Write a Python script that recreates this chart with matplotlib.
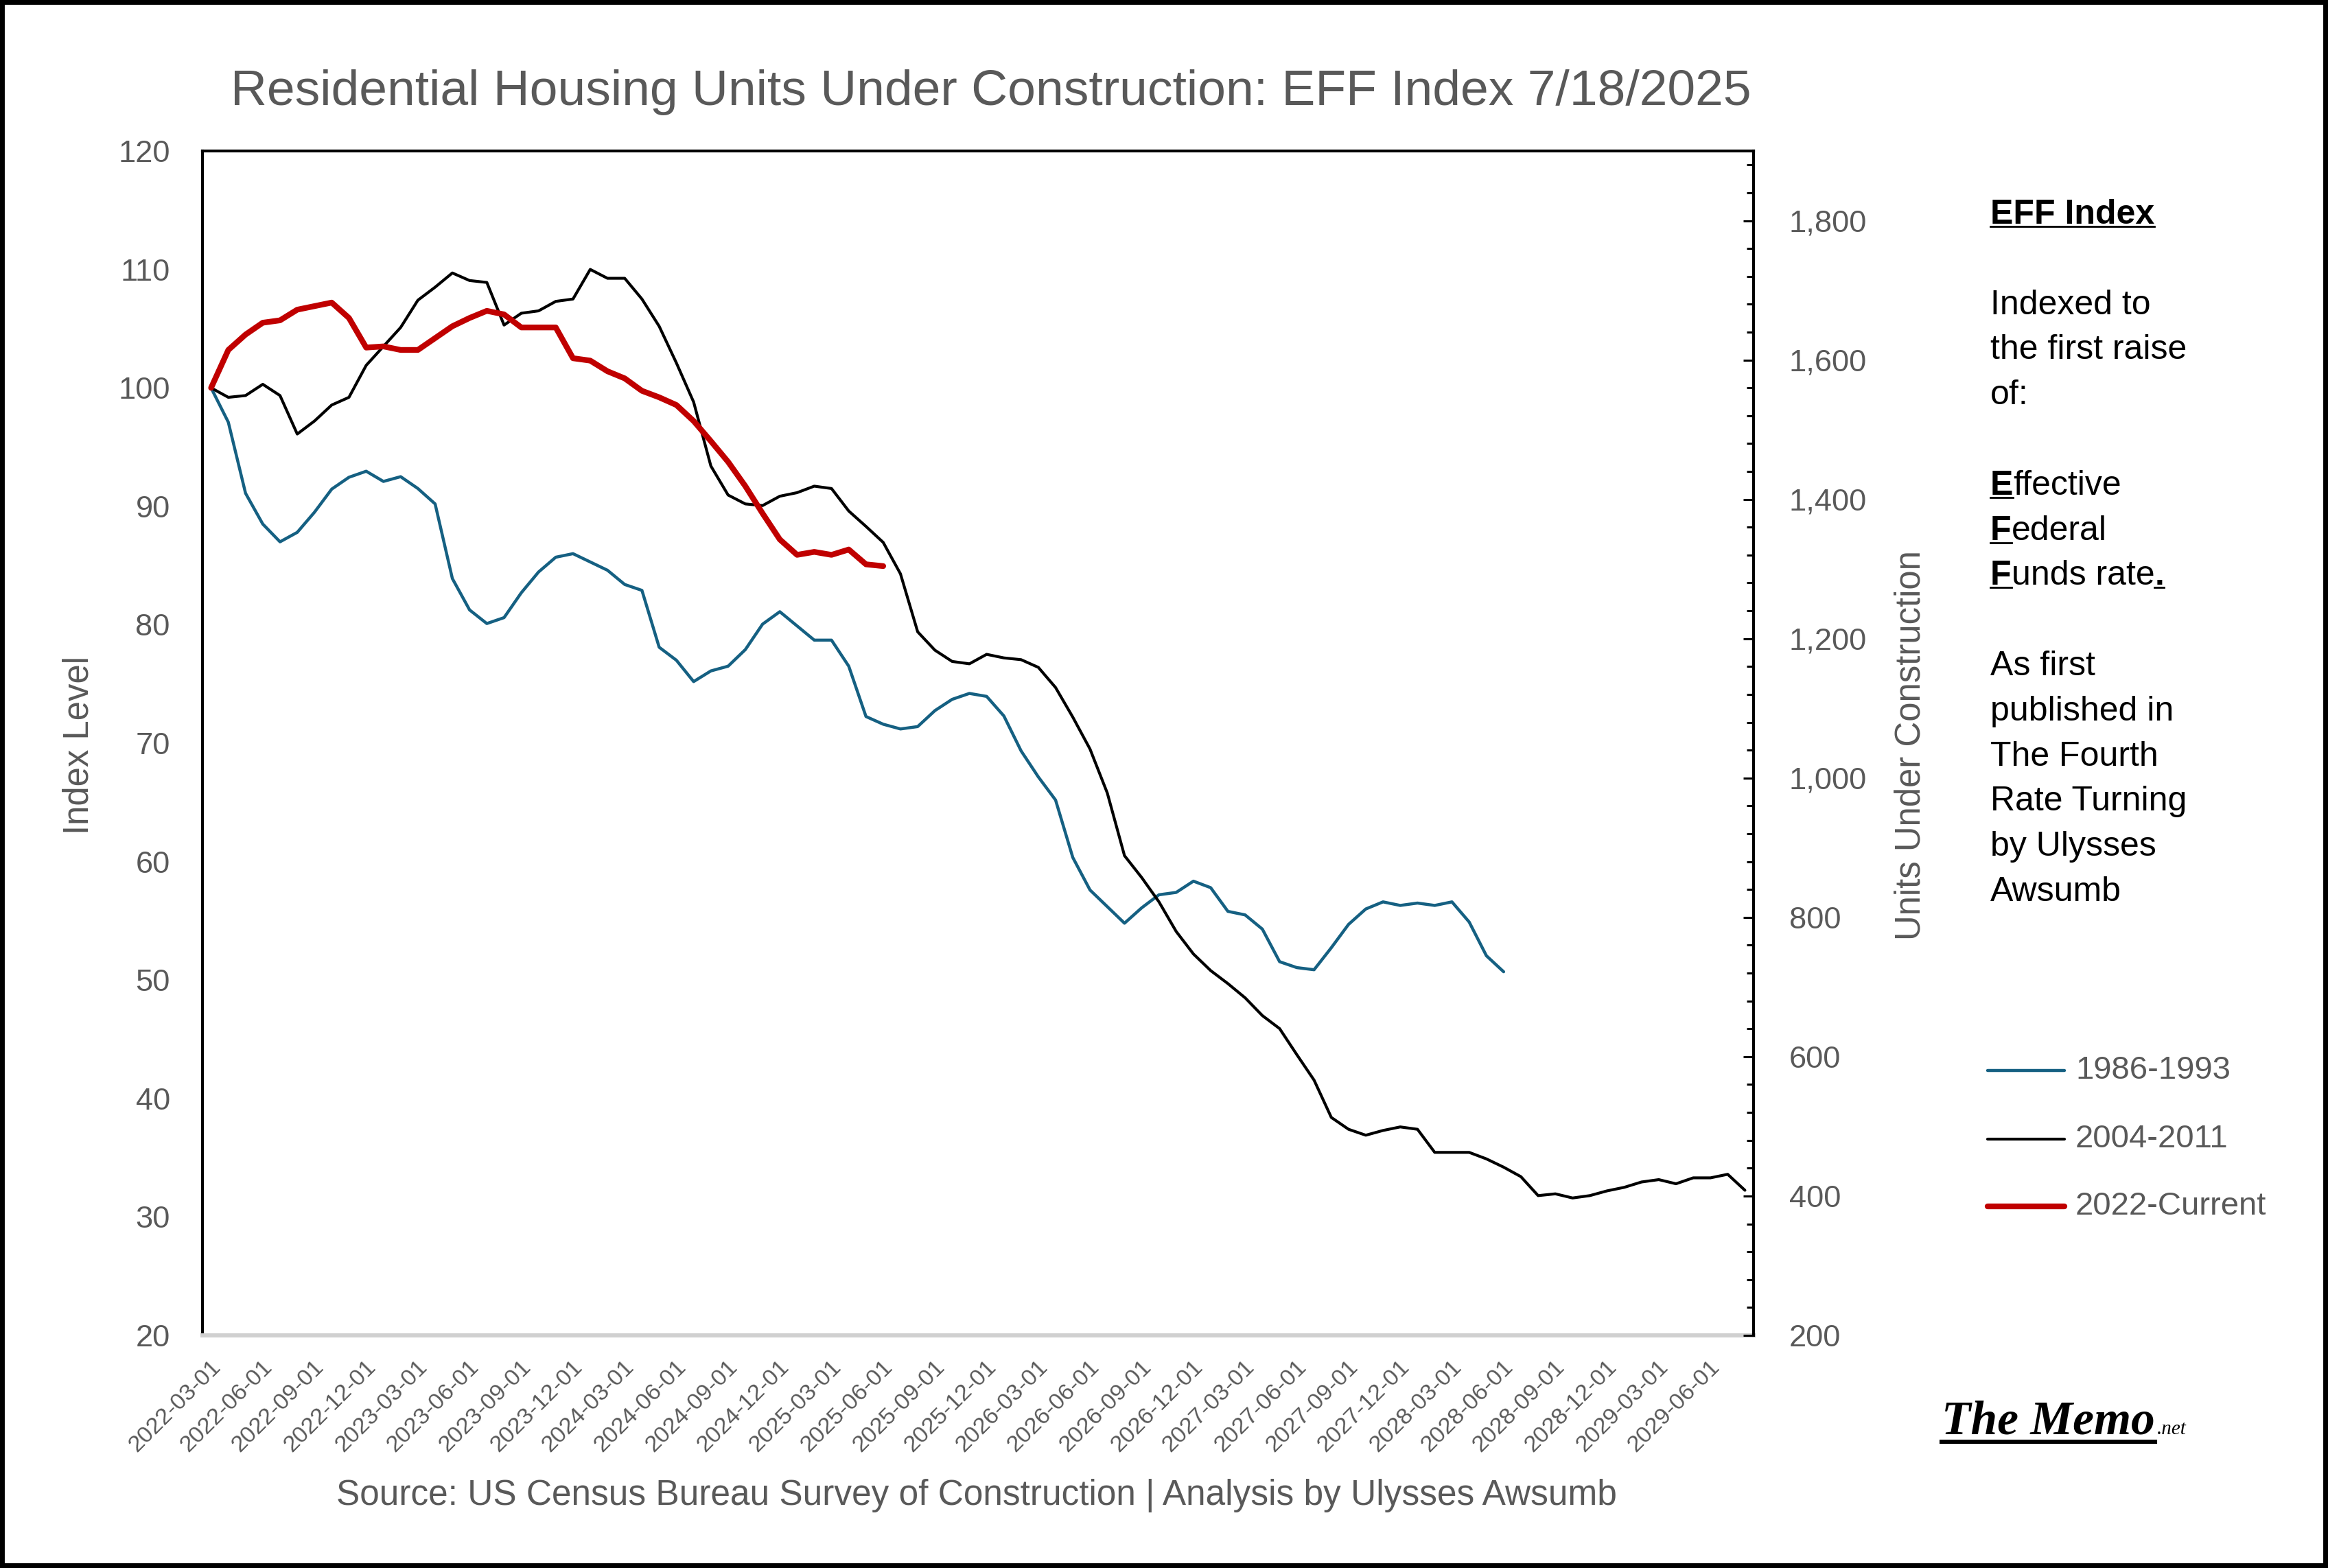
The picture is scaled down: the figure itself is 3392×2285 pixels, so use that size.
import matplotlib
matplotlib.use("Agg")
import matplotlib.pyplot as plt
import numpy as np
import pandas as pd
from matplotlib.lines import Line2D
from matplotlib.patches import Rectangle
from matplotlib.ticker import MultipleLocator, FuncFormatter

plt.rcParams['font.family'] = ['Liberation Sans', 'DejaVu Sans']

# monthly categories on the x axis (90 months from the first raise)
months = pd.date_range("2022-03-01", periods=90, freq="MS").strftime("%Y-%m-%d").tolist()

series_names = ["1986-1993", "2004-2011", "2022-Current"]
series_colors = ["#156082", "#000000", "#C00000"]
series_widths = [1.6, 1.5, 3.0]

idx_1986 = [100, 97.1, 91.1, 88.5, 87.0, 87.8, 89.5, 91.45, 92.45, 92.96,
            92.1, 92.5, 91.5, 90.2, 83.9, 81.25, 80.1, 80.6, 82.7, 84.45,
            85.7, 86.0, 85.3, 84.6, 83.4, 82.9, 78.1, 77.0, 75.2, 76.1,
            76.5, 77.9, 80.05, 81.1, 79.9, 78.7, 78.7, 76.5, 72.25, 71.6,
            71.2, 71.4, 72.75, 73.7, 74.2, 73.95, 72.3, 69.35, 67.15, 65.2,
            60.35, 57.6, 56.2, 54.8, 56.1, 57.2, 57.4, 58.35, 57.8, 55.8,
            55.5, 54.3, 51.55, 51.05, 50.87, 52.73, 54.7, 56.0, 56.6, 56.3,
            56.5, 56.3, 56.6, 54.9, 52.05, 50.7]

idx_2004 = [100, 99.2, 99.35, 100.3, 99.35, 96.1, 97.2, 98.55, 99.2, 101.9,
            103.5, 105.1, 107.4, 108.5, 109.7, 109.06, 108.9, 105.3, 106.3, 106.5,
            107.3, 107.5, 110.0, 109.25, 109.25, 107.5, 105.2, 102.1, 98.8, 93.4,
            90.95, 90.2, 90.06, 90.85, 91.15, 91.7, 91.5, 89.6, 88.3, 86.95,
            84.3, 79.4, 77.85, 76.9, 76.7, 77.5, 77.2, 77.05, 76.4, 74.7,
            72.2, 69.5, 65.8, 60.5, 58.65, 56.6, 54.1, 52.2, 50.8, 49.7,
            48.5, 47.0, 45.9, 43.7, 41.55, 38.4, 37.4, 36.9, 37.3, 37.6,
            37.4, 35.45, 35.45, 35.45, 34.9, 34.2, 33.4, 31.8, 31.95, 31.6,
            31.8, 32.2, 32.5, 32.95, 33.15, 32.8, 33.3, 33.3, 33.6, 32.25]

idx_2022 = [100, 103.2, 104.5, 105.5, 105.7, 106.6, 106.9, 107.2, 105.9, 103.4,
            103.5, 103.2, 103.2, 104.2, 105.2, 105.9, 106.5, 106.2, 105.1, 105.1,
            105.1, 102.5, 102.3, 101.4, 100.8, 99.75, 99.2, 98.55, 97.2, 95.5,
            93.75, 91.7, 89.4, 87.2, 85.9, 86.15, 85.9, 86.35, 85.1, 84.95]

title = "Residential Housing Units Under Construction: EFF Index 7/18/2025"
source = "Source: US Census Bureau Survey of Construction | Analysis by Ulysses Awsumb"

W, H, DPI = 3392, 2285, 200
GRAY = "#595959"

fig = plt.figure(figsize=(W / DPI, H / DPI), dpi=DPI)


def fx(px):
    return px / W


def fy(py):
    return 1 - py / H


ax = fig.add_axes([fx(295), fy(1946), fx(2555) - fx(295), fy(220) - fy(1946)])
ax2 = ax.twinx()

for vals, name, col, lw in zip([idx_1986, idx_2004, idx_2022], series_names, series_colors, series_widths):
    ax.plot(np.arange(len(vals)), vals, color=col, lw=lw, label=name,
            solid_joinstyle='round', solid_capstyle='round', zorder=3)

ax.set_xlim(-0.5, len(months) - 0.5)
ax.set_ylim(20, 120)
ax.set_yticks(np.arange(20, 121, 10))
ax.tick_params(axis='y', length=0, labelsize=16.3, labelcolor=GRAY, pad=17)

tick_pos = list(range(0, len(months), 3))
ax.set_xticks(tick_pos)
ax.set_xticklabels([months[i] for i in tick_pos], rotation=45, ha='right', va='center',
                   rotation_mode='anchor', fontsize=12.3, color=GRAY)
ax.tick_params(axis='x', length=0, pad=15)
shift = matplotlib.transforms.ScaledTranslation(9 / DPI, 0, fig.dpi_scale_trans)
for lab in ax.get_xticklabels():
    lab.set_transform(lab.get_transform() + shift)

for side in ['left', 'top']:
    ax.spines[side].set_color('black')
    ax.spines[side].set_linewidth(1.5)
ax.spines['bottom'].set_color('#D0D0D0')
ax.spines['bottom'].set_linewidth(2.2)
ax.spines['right'].set_visible(False)

ax2.set_ylim(200, 1900)
ax2.yaxis.set_major_locator(MultipleLocator(200))
ax2.yaxis.set_minor_locator(MultipleLocator(40))
ax2.yaxis.set_major_formatter(FuncFormatter(lambda v, p: f"{v:,.0f}" if v <= 1800 else ""))
ax2.tick_params(axis='y', which='major', direction='in', length=5.4, width=1.1,
                labelsize=16.3, labelcolor=GRAY, pad=18.7)
ax2.tick_params(axis='y', which='minor', direction='in', length=3.6, width=1.1)
for side in ['left', 'top', 'bottom']:
    ax2.spines[side].set_visible(False)
ax2.spines['right'].set_color('black')
ax2.spines['right'].set_linewidth(1.5)

# titles and axis labels
fig.text(fx(1444), fy(153), title, ha='center', va='baseline', fontsize=26.4, color=GRAY)
fig.text(fx(1423), fy(2193), source, ha='center', va='baseline', fontsize=18.5, color=GRAY)
fig.text(fx(115), fy(1086), "Index Level", rotation=90, ha='center', va='center', fontsize=18.3, color=GRAY)
fig.text(fx(2784), fy(1086), "Units Under Construction", rotation=90, ha='center', va='center',
         fontsize=18.3, color=GRAY)

renderer = fig.canvas.get_renderer()


def rich_line(x, y, pieces, size=18, **kw):
    # pieces: (text, bold, underlined) placed one after another
    for text, bold, under in pieces:
        t = fig.text(fx(x), fy(y), text, fontsize=size, fontweight='bold' if bold else 'normal',
                     color='black', ha='left', va='baseline', **kw)
        bb = t.get_window_extent(renderer)
        if under:
            fig.add_artist(Line2D([fx(x), fx(x + bb.width)], [fy(y + 4)] * 2, color='black', lw=1.0))
        x += bb.width
    return x


side_lines = [
    [("EFF Index", True, True)],
    [],
    [("Indexed to", False, False)],
    [("the first raise", False, False)],
    [("of:", False, False)],
    [],
    [("E", True, True), ("ffective", False, False)],
    [("F", True, True), ("ederal", False, False)],
    [("F", True, True), ("unds rate", False, False), (".", True, True)],
    [],
    [("As first", False, False)],
    [("published in", False, False)],
    [("The Fourth", False, False)],
    [("Rate Turning", False, False)],
    [("by Ulysses", False, False)],
    [("Awsumb", False, False)],
]
for k, pieces in enumerate(side_lines):
    if pieces:
        rich_line(2900, 326 + 65.8 * k, pieces)

# legend drawn beside the plot
for name, col, lw, y in zip(series_names, series_colors, series_widths, [1560, 1660, 1758]):
    fig.add_artist(Line2D([fx(2896), fx(3008)], [fy(y)] * 2, color=col, lw=lw, solid_capstyle='round'))
    fig.text(fx(3024), fy(y), name, ha='left', va='center', fontsize=17, color=GRAY)

# logo
memo = fig.text(fx(2829), fy(2090), "The Memo", family=['Liberation Serif', 'DejaVu Serif'],
                fontweight='bold', fontstyle='italic', fontsize=25, color='black', va='baseline')
mb = memo.get_window_extent(renderer)
fig.add_artist(Line2D([fx(2829), fx(2829 + mb.width)], [fy(2101)] * 2, color='black', lw=2.2))
fig.text(fx(2829 + mb.width + 3), fy(2090), ".net", family=['Liberation Serif', 'DejaVu Serif'],
         fontstyle='italic', fontsize=10.5, color='black', va='baseline')

fig.add_artist(Rectangle((0, 0), 1, 1, transform=fig.transFigure, fill=False, ec='black', lw=5))

fig.savefig("out.png", dpi=DPI, facecolor='white')
